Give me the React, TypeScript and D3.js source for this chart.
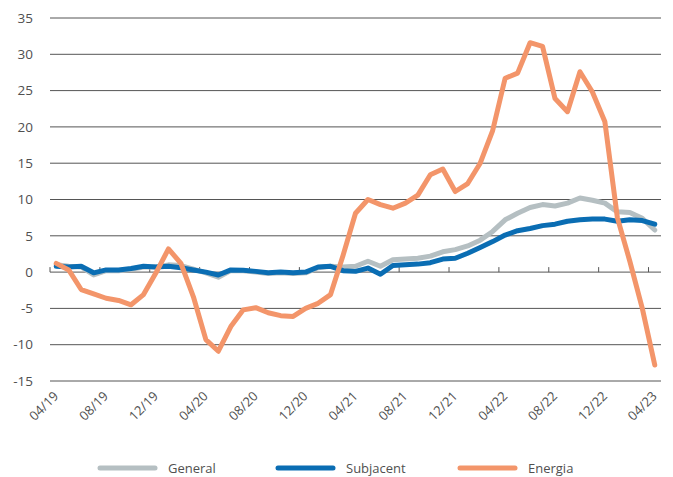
import React from "react";
import * as d3 from "d3";

const WIDTH = 673;
const HEIGHT = 477;
const MARGIN = { top: 18, right: 12, bottom: 96, left: 50 };

// monthly, 04/19 .. 04/23
const months = [
  "04/19", "05/19", "06/19", "07/19", "08/19", "09/19", "10/19", "11/19", "12/19",
  "01/20", "02/20", "03/20", "04/20", "05/20", "06/20", "07/20", "08/20", "09/20",
  "10/20", "11/20", "12/20", "01/21", "02/21", "03/21", "04/21", "05/21", "06/21",
  "07/21", "08/21", "09/21", "10/21", "11/21", "12/21", "01/22", "02/22", "03/22",
  "04/22", "05/22", "06/22", "07/22", "08/22", "09/22", "10/22", "11/22", "12/22",
  "01/23", "02/23", "03/23", "04/23",
];

const tickLabels = ["04/19", "08/19", "12/19", "04/20", "08/20", "12/20", "04/21",
  "08/21", "12/21", "04/22", "08/22", "12/22", "04/23"];

const yTicks = [35, 30, 25, 20, 15, 10, 5, 0, -5, -10, -15];

const general = [
  1.0, 0.8, 0.7, -0.4, 0.2, 0.2, 0.4, 0.7, 0.7, 1.0, 0.9, 0.4, -0.1, -0.7, 0.2, 0.2,
  0.0, -0.2, -0.1, -0.2, -0.1, 0.6, 0.8, 0.7, 0.8, 1.5, 0.8, 1.7, 1.8, 1.9, 2.2, 2.8,
  3.1, 3.6, 4.4, 5.6, 7.2, 8.1, 8.9, 9.3, 9.1, 9.5, 10.2, 9.9, 9.5, 8.3, 8.2, 7.4, 5.8,
];

const subjacent = [
  0.8, 0.7, 0.8, -0.1, 0.3, 0.3, 0.5, 0.8, 0.7, 0.8, 0.6, 0.3, 0.0, -0.4, 0.3, 0.25,
  0.1, -0.1, 0.0, -0.1, 0.0, 0.7, 0.8, 0.2, 0.1, 0.55, -0.3, 0.9, 1.0, 1.1, 1.3, 1.8,
  1.9, 2.6, 3.4, 4.2, 5.1, 5.7, 6.0, 6.4, 6.6, 7.0, 7.2, 7.3, 7.3, 7.0, 7.2, 7.1, 6.6,
];

const energia = [
  1.2, 0.3, -2.4, -3.0, -3.6, -3.9, -4.5, -3.1, -0.1, 3.2, 1.2, -3.4, -9.3, -10.9, -7.5,
  -5.2, -4.9, -5.6, -6.0, -6.1, -5.0, -4.3, -3.1, 2.3, 8.1, 10.0, 9.3, 8.8, 9.5, 10.6,
  13.4, 14.2, 11.1, 12.2, 15.0, 19.5, 26.7, 27.4, 31.6, 31.1, 23.9, 22.1, 27.6, 24.8,
  20.7, 7.5, 1.5, -5.0, -12.8,
];

const series = [
  { name: "General", values: general, color: "#b5bfc2" },
  { name: "Subjacent", values: subjacent, color: "#0a6db3" },
  { name: "Energia", values: energia, color: "#f3956a" },
];

const FONT = "'Open Sans', sans-serif";
const TEXT = "#505050";

export default function App() {
  const x = d3
    .scaleBand<string>()
    .domain(months)
    .range([MARGIN.left, WIDTH - MARGIN.right]);
  const cx = (m: string) => (x(m) ?? 0) + x.bandwidth() / 2;

  const y = d3
    .scaleLinear()
    .domain([-15, 35])
    .range([381, MARGIN.top]);

  const line = d3
    .line<number>()
    .x((_, i) => cx(months[i]))
    .y((d) => y(d));

  const legendX = [100, 278, 460];

  return (
    <svg
      width={WIDTH}
      height={HEIGHT}
      style={{ position: "absolute", left: 0, top: 0, background: "#fff" }}
      fontFamily={FONT}
    >
      {yTicks.map((t) => (
        <g key={t}>
          <line
            x1={MARGIN.left}
            x2={WIDTH - MARGIN.right}
            y1={y(t)}
            y2={y(t)}
            stroke="#555"
            strokeWidth={1}
          />
          <text
            x={33}
            y={y(t)}
            dy="0.35em"
            textAnchor="end"
            fontSize={13.5}
            fill={TEXT}
          >
            {t}
          </text>
        </g>
      ))}

      {tickLabels.map((m) => (
        <g key={m}>
          <line
            x1={x(m)}
            x2={x(m)}
            y1={y(0)}
            y2={y(0) - 5}
            stroke="#555"
            strokeWidth={1}
          />
          <text
            transform={`translate(${cx(m) + 3},${397}) rotate(-45)`}
            textAnchor="end"
            fontSize={13}
            fill={TEXT}
          >
            {m}
          </text>
        </g>
      ))}

      {series.map((s) => (
        <path
          key={s.name}
          d={line(s.values) ?? ""}
          fill="none"
          stroke={s.color}
          strokeWidth={5}
          strokeLinejoin="round"
          strokeLinecap="round"
        />
      ))}

      {series.map((s, i) => (
        <g key={s.name} transform={`translate(${legendX[i]},468)`}>
          <line x1={0} x2={55} y1={0} y2={0} stroke={s.color} strokeWidth={5} strokeLinecap="round" />
          <text x={68} y={0} dy="0.35em" fontSize={13} fill={TEXT}>
            {s.name}
          </text>
        </g>
      ))}
    </svg>
  );
}
